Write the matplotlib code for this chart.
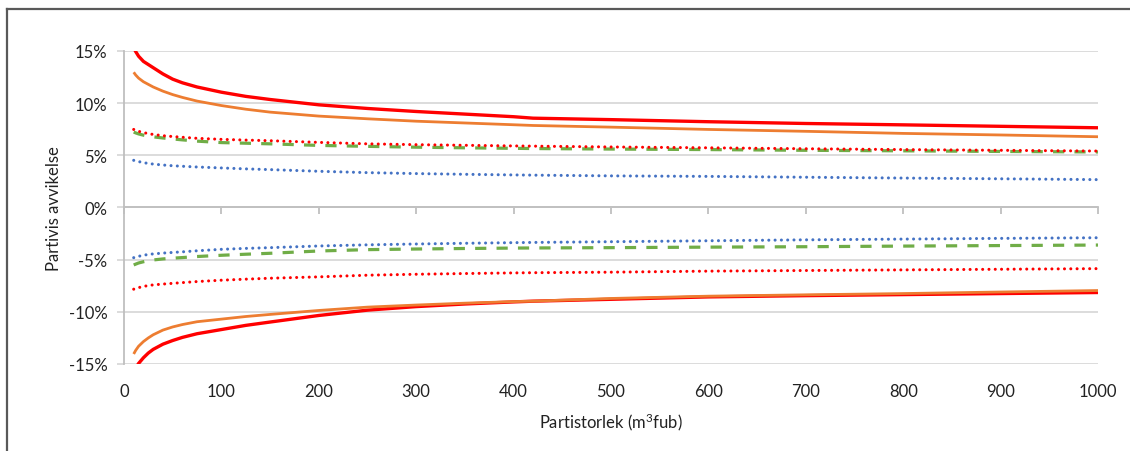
import matplotlib
matplotlib.use("Agg")
import matplotlib.pyplot as plt
from matplotlib.lines import Line2D
from matplotlib.ticker import FuncFormatter, FixedLocator

plt.rcParams['font.family'] = ['Lato', 'DejaVu Sans']
plt.rcParams['mathtext.fontset'] = 'custom'
plt.rcParams['mathtext.rm'] = 'Lato'
plt.rcParams['mathtext.it'] = 'Lato'

# lot size (m3fub)
x = [10, 12, 15, 20, 25, 30, 40, 50, 60, 75, 100, 125, 150, 200, 250, 300, 350, 400, 420,
     500, 600, 700, 800, 900, 1000]
x_ticks = [0, 100, 200, 300, 400, 500, 600, 700, 800, 900, 1000]
y_ticks = [-15, -10, -5, 0, 5, 10, 15]

# relative deviation (%), upper and lower limits per series
red_hi = [15.3, 14.95, 14.5, 14.0, 13.7, 13.4, 12.8, 12.3, 11.95, 11.55, 11.05, 10.65, 10.35,
          9.84, 9.49, 9.2, 8.95, 8.7, 8.56, 8.42, 8.22, 8.05, 7.92, 7.78, 7.64]
red_lo = [-15.8, -15.4, -14.95, -14.4, -13.95, -13.6, -13.1, -12.75, -12.45, -12.1, -11.7, -11.3, -10.98,
          -10.35, -9.84, -9.5, -9.25, -9.05, -8.98, -8.8, -8.57, -8.45, -8.35, -8.25, -8.15]
orange_hi = [12.96, 12.7, 12.4, 12.05, 11.8, 11.55, 11.15, 10.82, 10.55, 10.2, 9.77, 9.42, 9.14,
             8.76, 8.5, 8.27, 8.1, 7.93, 7.86, 7.7, 7.48, 7.3, 7.1, 6.95, 6.78]
orange_lo = [-14.04, -13.7, -13.3, -12.85, -12.5, -12.2, -11.75, -11.45, -11.22, -10.95, -10.7, -10.45, -10.25,
             -9.87, -9.55, -9.35, -9.17, -9.02, -8.98, -8.72, -8.5, -8.37, -8.25, -8.1, -7.96]
reddot_hi = [7.48, 7.4, 7.3, 7.18, 7.08, 7.0, 6.88, 6.8, 6.73, 6.63, 6.53, 6.46, 6.4,
             6.24, 6.1, 6.02, 5.96, 5.9, 5.88, 5.8, 5.72, 5.63, 5.55, 5.48, 5.41]
reddot_lo = [-7.83, -7.77, -7.68, -7.57, -7.48, -7.42, -7.34, -7.27, -7.2, -7.1, -6.97, -6.87, -6.78,
             -6.65, -6.49, -6.4, -6.33, -6.27, -6.25, -6.2, -6.1, -6.04, -5.98, -5.92, -5.86]
green_hi = [7.23, 7.15, 7.05, 6.93, 6.84, 6.77, 6.66, 6.57, 6.48, 6.36, 6.22, 6.16, 6.1,
            5.95, 5.86, 5.78, 5.72, 5.67, 5.65, 5.6, 5.55, 5.48, 5.43, 5.37, 5.32]
green_lo = [-5.51, -5.43, -5.32, -5.2, -5.1, -5.03, -4.93, -4.86, -4.8, -4.7, -4.58, -4.48, -4.39,
            -4.17, -4.04, -3.98, -3.93, -3.89, -3.88, -3.85, -3.8, -3.76, -3.7, -3.65, -3.6]
blue_hi = [4.52, 4.47, 4.4, 4.3, 4.22, 4.16, 4.07, 4.0, 3.95, 3.88, 3.79, 3.7, 3.63,
           3.47, 3.34, 3.25, 3.18, 3.12, 3.1, 3.03, 2.98, 2.9, 2.82, 2.75, 2.67]
blue_lo = [-4.81, -4.76, -4.68, -4.58, -4.5, -4.45, -4.37, -4.31, -4.25, -4.15, -4.01, -3.92, -3.85,
           -3.69, -3.58, -3.5, -3.43, -3.37, -3.35, -3.28, -3.19, -3.1, -3.03, -2.96, -2.9]

fig = plt.figure(figsize=(11.3, 4.52), dpi=100)
ax = fig.add_axes([0.1097, 0.1925, 0.862, 0.6925])

grid_c = '#D9D9D9'
axis_c = '#BFBFBF'
text_c = '#222222'
dots = (0, (0.01, 2.05))

for ys in (red_hi, red_lo):
    ax.plot(x, ys, color='#FF0000', lw=2.4, solid_capstyle='butt')
for ys in (orange_hi, orange_lo):
    ax.plot(x, ys, color='#ED7D31', lw=2.0, solid_capstyle='butt')
for ys in (green_hi, green_lo):
    ax.plot(x, ys, color='#70AD47', lw=2.3, linestyle=(0, (3.5, 3.2)), dash_capstyle='butt')
for ys in (reddot_hi, reddot_lo):
    ax.plot(x, ys, color='#FF0000', lw=2.2, linestyle=dots, dash_capstyle='round')
for ys in (blue_hi, blue_lo):
    ax.plot(x, ys, color='#4472C4', lw=2.2, linestyle=dots, dash_capstyle='round')

ax.set_xlim(0, 1000)
ax.set_ylim(-15, 15)
ax.xaxis.set_major_locator(FixedLocator(x_ticks))
ax.yaxis.set_major_locator(FixedLocator(y_ticks))
ax.yaxis.set_major_formatter(FuncFormatter(lambda v, p: f"{v:.0f}%"))

ax.grid(axis='y', color=grid_c, lw=1.3)
ax.set_axisbelow(True)
for s in ('top', 'right'):
    ax.spines[s].set_visible(False)
ax.spines['left'].set_color(axis_c)
ax.spines['left'].set_linewidth(1.3)

# horizontal axis crosses at 0 %, ticks hang below it
ax.spines['bottom'].set_position(('data', 0))
ax.spines['bottom'].set_color(axis_c)
ax.spines['bottom'].set_linewidth(1.3)
ax.tick_params(axis='x', length=5, color=axis_c, width=1.3, labelbottom=False)
ax.tick_params(axis='y', length=5, color=grid_c, width=1.3, labelsize=12, pad=7, labelcolor=text_c)

# labels sit at the bottom edge
sec = ax.secondary_xaxis('bottom')
sec.xaxis.set_major_locator(FixedLocator(x_ticks))
sec.tick_params(axis='x', length=0, labelsize=12, pad=14, labelcolor=text_c)
sec.spines['bottom'].set_visible(False)
sec.set_xlabel('Partistorlek (m$^{3}$fub)', fontsize=12, labelpad=8, color=text_c)

ax.set_ylabel('Partivis avvikelse', fontsize=12, labelpad=5, color=text_c)

# outer frame (left and top edges only)
fig.add_artist(Line2D([0.0066, 0.0066], [0.0, 0.978], color='#595959', lw=1.6, transform=fig.transFigure))
fig.add_artist(Line2D([0.0066, 1.0], [0.978, 0.978], color='#595959', lw=1.6, transform=fig.transFigure))

fig.savefig('out.png', dpi=100)
